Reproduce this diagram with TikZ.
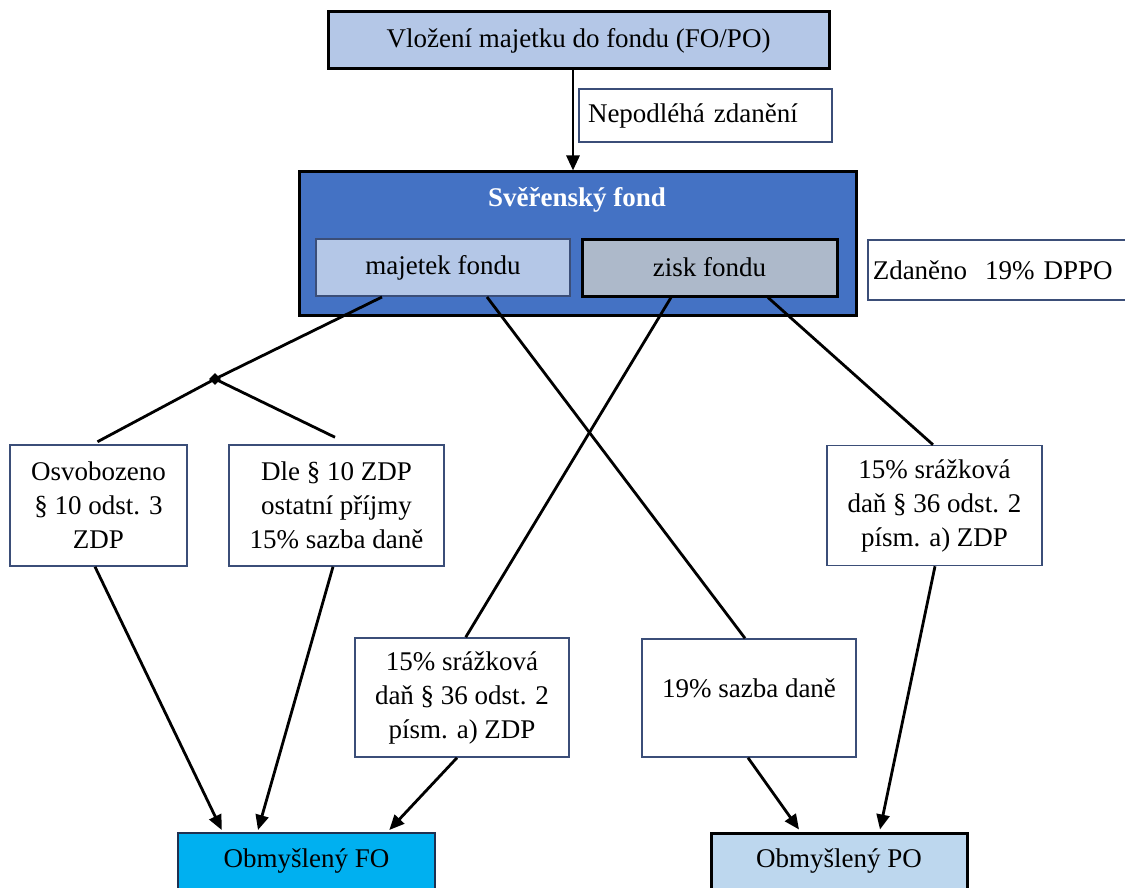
\documentclass[tikz,border=0pt]{standalone}
\usepackage{fontspec}
\setmainfont{Liberation Serif}
\usetikzlibrary{arrows.meta,shapes.geometric}
\definecolor{lblue}{HTML}{B4C7E7}
\definecolor{fondblue}{HTML}{4472C4}
\definecolor{ziskgray}{HTML}{ADB9CA}
\definecolor{foblue}{HTML}{00B0F0}
\definecolor{poblue}{HTML}{BDD7EE}
\definecolor{thinb}{HTML}{3B4E78}
\definecolor{navyb}{HTML}{1F3050}
\tikzset{
  base/.style={rectangle, inner sep=0pt, align=center, font=\fontsize{27}{34}\selectfont},
  thinbox/.style={base, draw=thinb, line width=1.5pt, fill=white},
  thickbox/.style={base, draw=black, line width=3pt},
  conn/.style={line width=2.8pt, draw=black},
  arr/.style={conn, -{Triangle[length=15pt,width=13pt]}},
}
\begin{document}
\begin{tikzpicture}[x=1pt,y=-1pt]
\useasboundingbox (0,0) rectangle (1125,888);
% boxes
\node[thickbox, fill=lblue, minimum width=501pt, minimum height=57pt] (top) at (578.5,40.5) {Vložení majetku do fondu (FO/PO)};
\node[thinbox, text width=235pt, inner xsep=9pt, align=left, minimum height=53pt] (nep) at (705.5,115.5) {Nepodléhá zdanění};
\node[thickbox, fill=fondblue, minimum width=557pt, minimum height=143.5pt] (fond) at (577.5,243.75) {};
\node[base, text=white, font=\fontsize{27}{34}\selectfont\bfseries] (title) at (577,200) {Svěřenský fond};
\node[base, draw=thinb, line width=2pt, fill=lblue, minimum width=254.5pt, minimum height=57pt] (maj) at (443,267.5) {majetek fondu};
\node[thickbox, fill=ziskgray, minimum width=255pt, minimum height=57pt] (zisk) at (709.5,267.5) {zisk fondu};
\node[thinbox, anchor=west, text width=258pt, inner xsep=5pt, align=left, minimum height=60pt] (zd) at (867,270) {Zdaněno\ \ 19\% DPPO};
\node[thinbox, minimum width=177pt, minimum height=121pt] (osv) at (98.5,505.5) {Osvobozeno\\§ 10 odst. 3\\ZDP};
\node[thinbox, minimum width=215pt, minimum height=121pt] (dle) at (336.5,505.5) {Dle § 10 ZDP\\ostatní příjmy\\15\% sazba daně};
\node[thinbox, minimum width=215pt, minimum height=120pt] (r15) at (934.5,505.5) {15\% srážková\\daň § 36 odst. 2\\písm. a) ZDP};
\node[thinbox, minimum width=214pt, minimum height=119pt] (m15) at (462,697.5) {15\% srážková\\daň § 36 odst. 2\\písm. a) ZDP};
\node[thinbox, minimum width=214pt, minimum height=118pt] (p19) at (749,698) {\raisebox{10pt}[\height][\depth]{19\% sazba daně}};
\node[base, draw=navyb, line width=2pt, fill=foblue, minimum width=257pt, minimum height=56pt] (fo) at (306.5,861) {Obmyšlený FO};
\node[thickbox, fill=poblue, minimum width=256pt, minimum height=56pt] (po) at (839,861) {Obmyšlený PO};
\node[diamond, fill=black, inner sep=0pt, minimum size=12pt] (j) at (215,379) {};
% connectors
\draw[arr] ([xshift=-5.5pt]top.south) -- ([xshift=-4.5pt]fond.north);
\draw[conn] ([xshift=-61pt]maj.south) -- (j.center);
\draw[conn] (j.center) -- ([xshift=-1pt,yshift=2.5pt]osv.north);
\draw[conn] (j.center) -- ([xshift=-1.5pt,yshift=7pt]dle.north);
\draw[conn] ([xshift=44pt]maj.south) -- ([xshift=-4pt]p19.north);
\draw[conn] ([xshift=-38.5pt]zisk.south) -- ([xshift=3.7pt]m15.north);
\draw[conn] ([xshift=58.5pt]zisk.south) -- ([xshift=-1.5pt]r15.north);
\draw[arr] ([xshift=-3.5pt]osv.south) -- ([xshift=-84.8pt,yshift=2pt]fo.north);
\draw[arr] ([xshift=-3.5pt]dle.south) -- ([xshift=-48.5pt,yshift=2pt]fo.north);
\draw[arr] ([xshift=-5pt]m15.south) -- ([xshift=82.8pt,yshift=2pt]fo.north);
\draw[arr] ([xshift=-1pt]p19.south) -- ([xshift=-40pt,yshift=2pt]po.north);
\draw[arr] ([xshift=0.5pt]r15.south) -- ([xshift=41pt,yshift=2pt]po.north);
\end{tikzpicture}
\end{document}
